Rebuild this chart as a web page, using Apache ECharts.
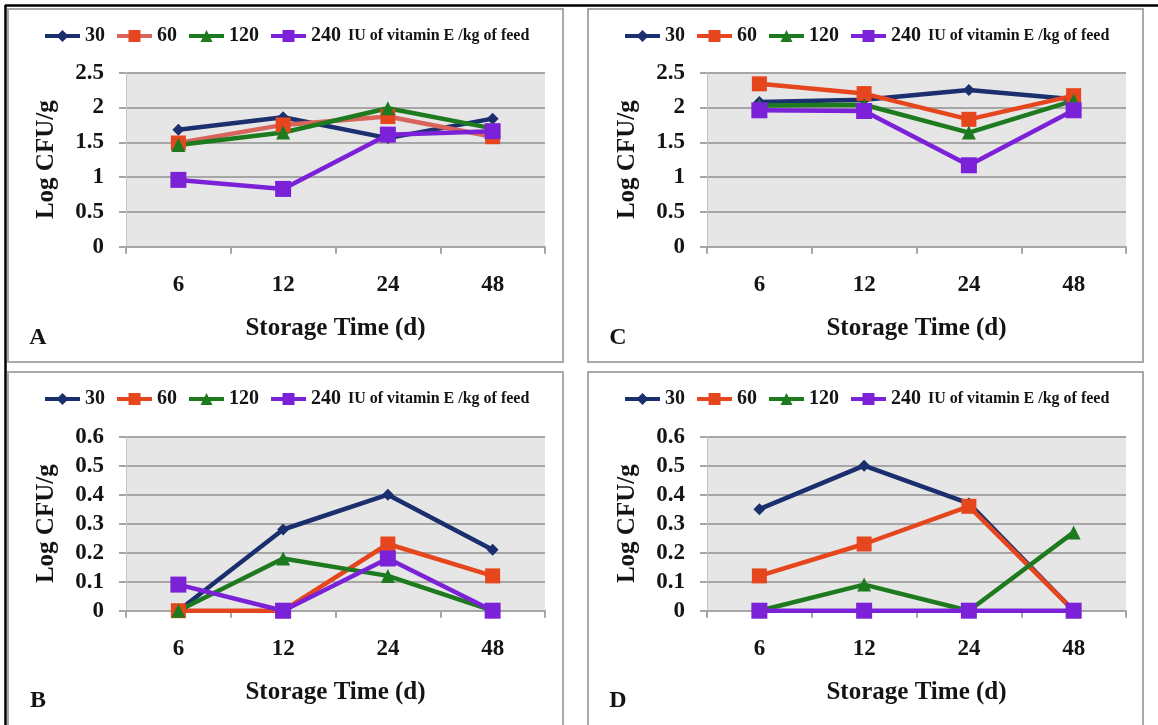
<!DOCTYPE html>
<html>
<head>
<meta charset="utf-8">
<script src="https://cdn.jsdelivr.net/npm/echarts@6/dist/echarts.min.js"></script>
<style>
  html, body { margin: 0; padding: 0; background: #ffffff; }
  #chart { width: 1158px; height: 725px; }
</style>
</head>
<body>
<div id="chart"></div>
<script>
// Storage time categories (days) and vitamin E dose groups
const storageDays = ['6', '12', '24', '48'];
const doseGroups = ['30', '60', '120', '240'];
const doseNote = 'IU of vitamin E /kg of feed';

// Panel A: Log CFU/g by dose (30, 60, 120, 240)
const panelA30 = [1.68, 1.86, 1.56, 1.84];
const panelA60 = [1.49, 1.75, 1.87, 1.58];
const panelA120 = [1.46, 1.64, 1.99, 1.70];
const panelA240 = [0.96, 0.83, 1.61, 1.66];

// Panel B
const panelB30 = [0, 0.28, 0.40, 0.21];
const panelB60 = [0, 0, 0.23, 0.12];
const panelB120 = [0, 0.18, 0.12, 0];
const panelB240 = [0.09, 0, 0.18, 0];

// Panel C
const panelC30 = [2.08, 2.11, 2.25, 2.12];
const panelC60 = [2.34, 2.20, 1.83, 2.17];
const panelC120 = [2.03, 2.04, 1.64, 2.10];
const panelC240 = [1.96, 1.95, 1.17, 1.96];

// Panel D
const panelD30 = [0.35, 0.50, 0.37, 0];
const panelD60 = [0.12, 0.23, 0.36, 0];
const panelD120 = [0, 0.09, 0, 0.27];
const panelD240 = [0, 0, 0, 0];

// Y tick ranges per panel
const bigScale = { min: 0, max: 2.5, interval: 0.5 };
const smallScale = { min: 0, max: 0.6, interval: 0.1 };

const panels = [
  { letter: 'A', data: [panelA30, panelA60, panelA120, panelA240], scale: bigScale, left: 126, top: 72.7, box: [8, 9], boxH: 353, red60Line: '#D8645C' },
  { letter: 'C', data: [panelC30, panelC60, panelC120, panelC240], scale: bigScale, left: 707, top: 72.7, box: [588, 9], boxH: 353, red60Line: '#E5461E' },
  { letter: 'B', data: [panelB30, panelB60, panelB120, panelB240], scale: smallScale, left: 126, top: 436.7, box: [8, 372], boxH: 380, red60Line: '#E5461E' },
  { letter: 'D', data: [panelD30, panelD60, panelD120, panelD240], scale: smallScale, left: 707, top: 436.7, box: [588, 372], boxH: 380, red60Line: '#E5461E' }
];

const FONT = 'Liberation Serif, Times New Roman, serif';
const INK = '#141414';
const seriesColors = ['#1B2F6E', '#E5461E', '#1E7A1E', '#7B22D9'];
const seriesSymbols = ['diamond', 'rect', 'triangle', 'rect'];
const seriesSymbolSizes = [12, 15, 14, 16];
const PLOT_W = 419, PLOT_H = 174;

const grids = [], xAxes = [], yAxes = [], series = [], legends = [], graphics = [];

panels.forEach((p, i) => {
  grids.push({
    left: p.left, top: p.top, width: PLOT_W, height: PLOT_H,
    show: true, backgroundColor: '#E6E6E6', borderWidth: 0
  });
  xAxes.push({
    type: 'category', gridIndex: i, data: storageDays, boundaryGap: true,
    name: 'Storage Time (d)', nameLocation: 'middle', nameGap: 69,
    nameTextStyle: { fontFamily: FONT, fontWeight: 'bold', fontSize: 25, color: INK },
    axisLine: { show: true, lineStyle: { color: '#A6A6A6', width: 2 } },
    axisTick: { show: true, length: 7, lineStyle: { color: '#A6A6A6', width: 2 } },
    axisLabel: { margin: 27, fontFamily: FONT, fontWeight: 'bold', fontSize: 23, color: INK },
    splitLine: { show: false }
  });
  yAxes.push({
    type: 'value', gridIndex: i, min: p.scale.min, max: p.scale.max, interval: p.scale.interval,
    name: 'Log CFU/g', nameLocation: 'middle', nameGap: 67, nameRotate: 90,
    nameTextStyle: { fontFamily: FONT, fontWeight: 'bold', fontSize: 25, color: INK },
    axisLine: { show: true, lineStyle: { color: '#C4C4C4', width: 1 } },
    axisTick: { show: true, length: 7, lineStyle: { color: '#A6A6A6', width: 2 } },
    axisLabel: { margin: 22, fontFamily: FONT, fontWeight: 'bold', fontSize: 23, color: INK },
    splitLine: { show: true, lineStyle: { color: '#A6A6A6', width: 2 } }
  });

  doseGroups.forEach((dose, k) => {
    const lineColor = k === 1 ? p.red60Line : seriesColors[k];
    series.push({
      type: 'line', name: dose, xAxisIndex: i, yAxisIndex: i,
      data: p.data[k],
      symbol: seriesSymbols[k], symbolSize: seriesSymbolSizes[k],
      showAllSymbol: true,
      lineStyle: { width: 4.5, color: lineColor },
      itemStyle: { color: seriesColors[k], borderWidth: 0 },
      emphasis: { disabled: true },
      animation: false
    });
  });

  legends.push({
    left: p.box[0] + 35, top: p.box[1] + 17,
    orient: 'horizontal', padding: 0,
    itemWidth: 35, itemHeight: 15, itemGap: 10,
    selectedMode: false,
    textStyle: {
      fontFamily: FONT, fontWeight: 'bold', fontSize: 20, color: INK,
      rich: { note: { fontFamily: FONT, fontWeight: 'bold', fontSize: 16, color: INK, padding: [0, 0, 0, 7] } }
    },
    formatter: name => name === '240' ? name + '{note|' + doseNote + '}' : name,
    data: doseGroups.map((dose, k) => ({
      name: dose,
      itemStyle: { color: seriesColors[k], borderWidth: 0 },
      lineStyle: { color: k === 1 ? p.red60Line : seriesColors[k], width: 4 }
    }))
  });

  // Panel frame and panel letter
  graphics.push({
    type: 'rect', silent: true,
    shape: { x: p.box[0], y: p.box[1], width: 555, height: p.boxH },
    style: { fill: 'none', stroke: '#A9A9A9', lineWidth: 2 }, z: -1
  });
  graphics.push({
    type: 'text', silent: true,
    x: p.box[0] + 30, y: p.box[1] + 329,
    style: { text: p.letter, fontFamily: FONT, fontWeight: 'bold', fontSize: 24, fill: INK, textAlign: 'center', textVerticalAlign: 'middle' }
  });
});

// Outer black frame along the top and left edges
graphics.push({ type: 'line', silent: true, shape: { x1: 5, y1: 5.5, x2: 1158, y2: 5.5 }, style: { stroke: '#000', lineWidth: 2.5 } });
graphics.push({ type: 'line', silent: true, shape: { x1: 5.5, y1: 5, x2: 5.5, y2: 725 }, style: { stroke: '#000', lineWidth: 2.5 } });

const chart = echarts.init(document.getElementById('chart'));
chart.setOption({
  backgroundColor: '#ffffff',
  animation: false,
  grid: grids,
  xAxis: xAxes,
  yAxis: yAxes,
  legend: legends,
  series: series,
  graphic: graphics
});
</script>
</body>
</html>
